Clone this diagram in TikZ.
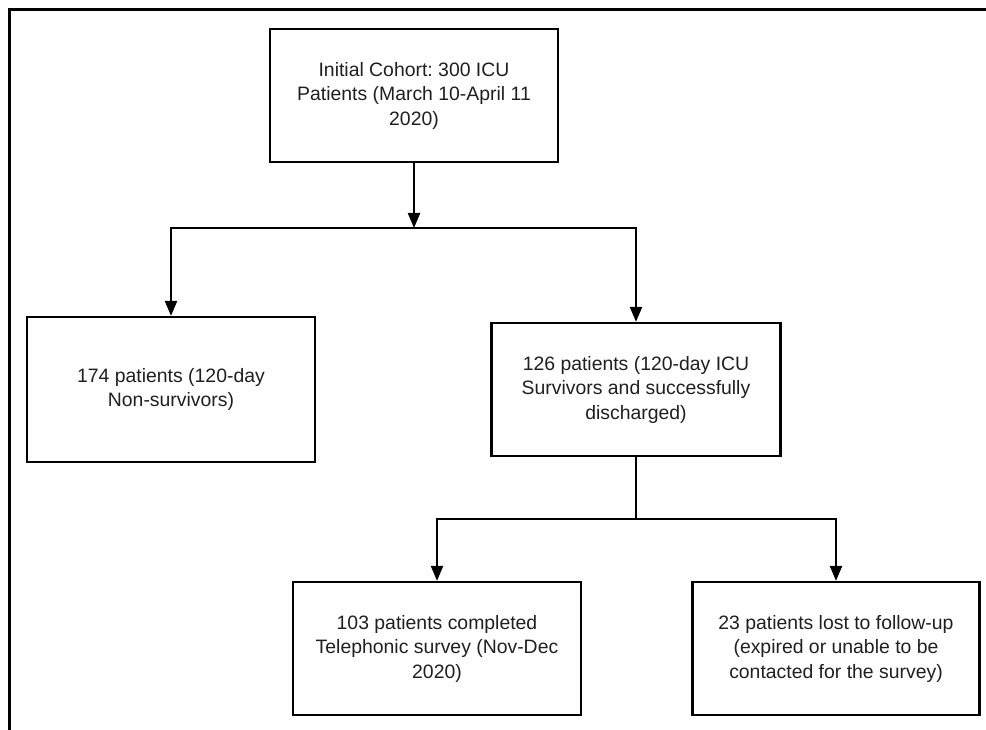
\documentclass[tikz,border=0pt]{standalone}
\usepackage{fontspec}
\setmainfont{Liberation Sans}
\usetikzlibrary{arrows.meta}
\begin{document}
\frenchspacing
\begin{tikzpicture}[x=1pt,y=-1pt,
  box/.style={draw=black,line width=2.2pt,rectangle,align=center,inner sep=0pt,
    font=\fontsize{19.4}{24.5}\selectfont\frenchspacing,text=black!88},
  arr/.style={line width=2.2pt,-{Triangle[width=12pt,length=15pt]}},
  ln/.style={line width=2.2pt}]
\useasboundingbox (0,0) rectangle (986,730);
\draw[line width=3pt] (986,10) -- (9,10) -- (9,730);
\node[box,minimum width=288pt,minimum height=133pt] (top) at (414,95.5)
  {Initial Cohort: 300 ICU\\Patients (March 10-April 11\\2020)};
\node[box,minimum width=288pt,minimum height=145pt] (left) at (171,389.5)
  {174 patients (120-day\\Non-survivors)};
\node[box,minimum width=289pt,minimum height=133pt] (mid) at (636,389.5)
  {126 patients (120-day ICU\\Survivors and successfully\\discharged)};
\node[box,minimum width=288pt,minimum height=133pt] (bl) at (437,648.5)
  {103 patients completed\\Telephonic survey (Nov-Dec\\2020)};
\node[box,minimum width=287pt,minimum height=133pt] (br) at (836,648.5)
  {23 patients lost to follow-up\\(expired or unable to be\\contacted for the survey)};
\coordinate (s1) at (414,228);
\coordinate (s2) at (636,519);
\draw[arr] (top) -- (s1);
\draw[ln] (s1 -| left) -- (s1 -| mid);
\draw[arr] (s1) -| (left);
\draw[arr] (s1) -| (mid);
\draw[ln] (mid) -- (s2);
\draw[ln] (s2 -| bl) -- (s2 -| br);
\draw[arr] (s2) -| (bl);
\draw[arr] (s2) -| (br);
\end{tikzpicture}
\end{document}
